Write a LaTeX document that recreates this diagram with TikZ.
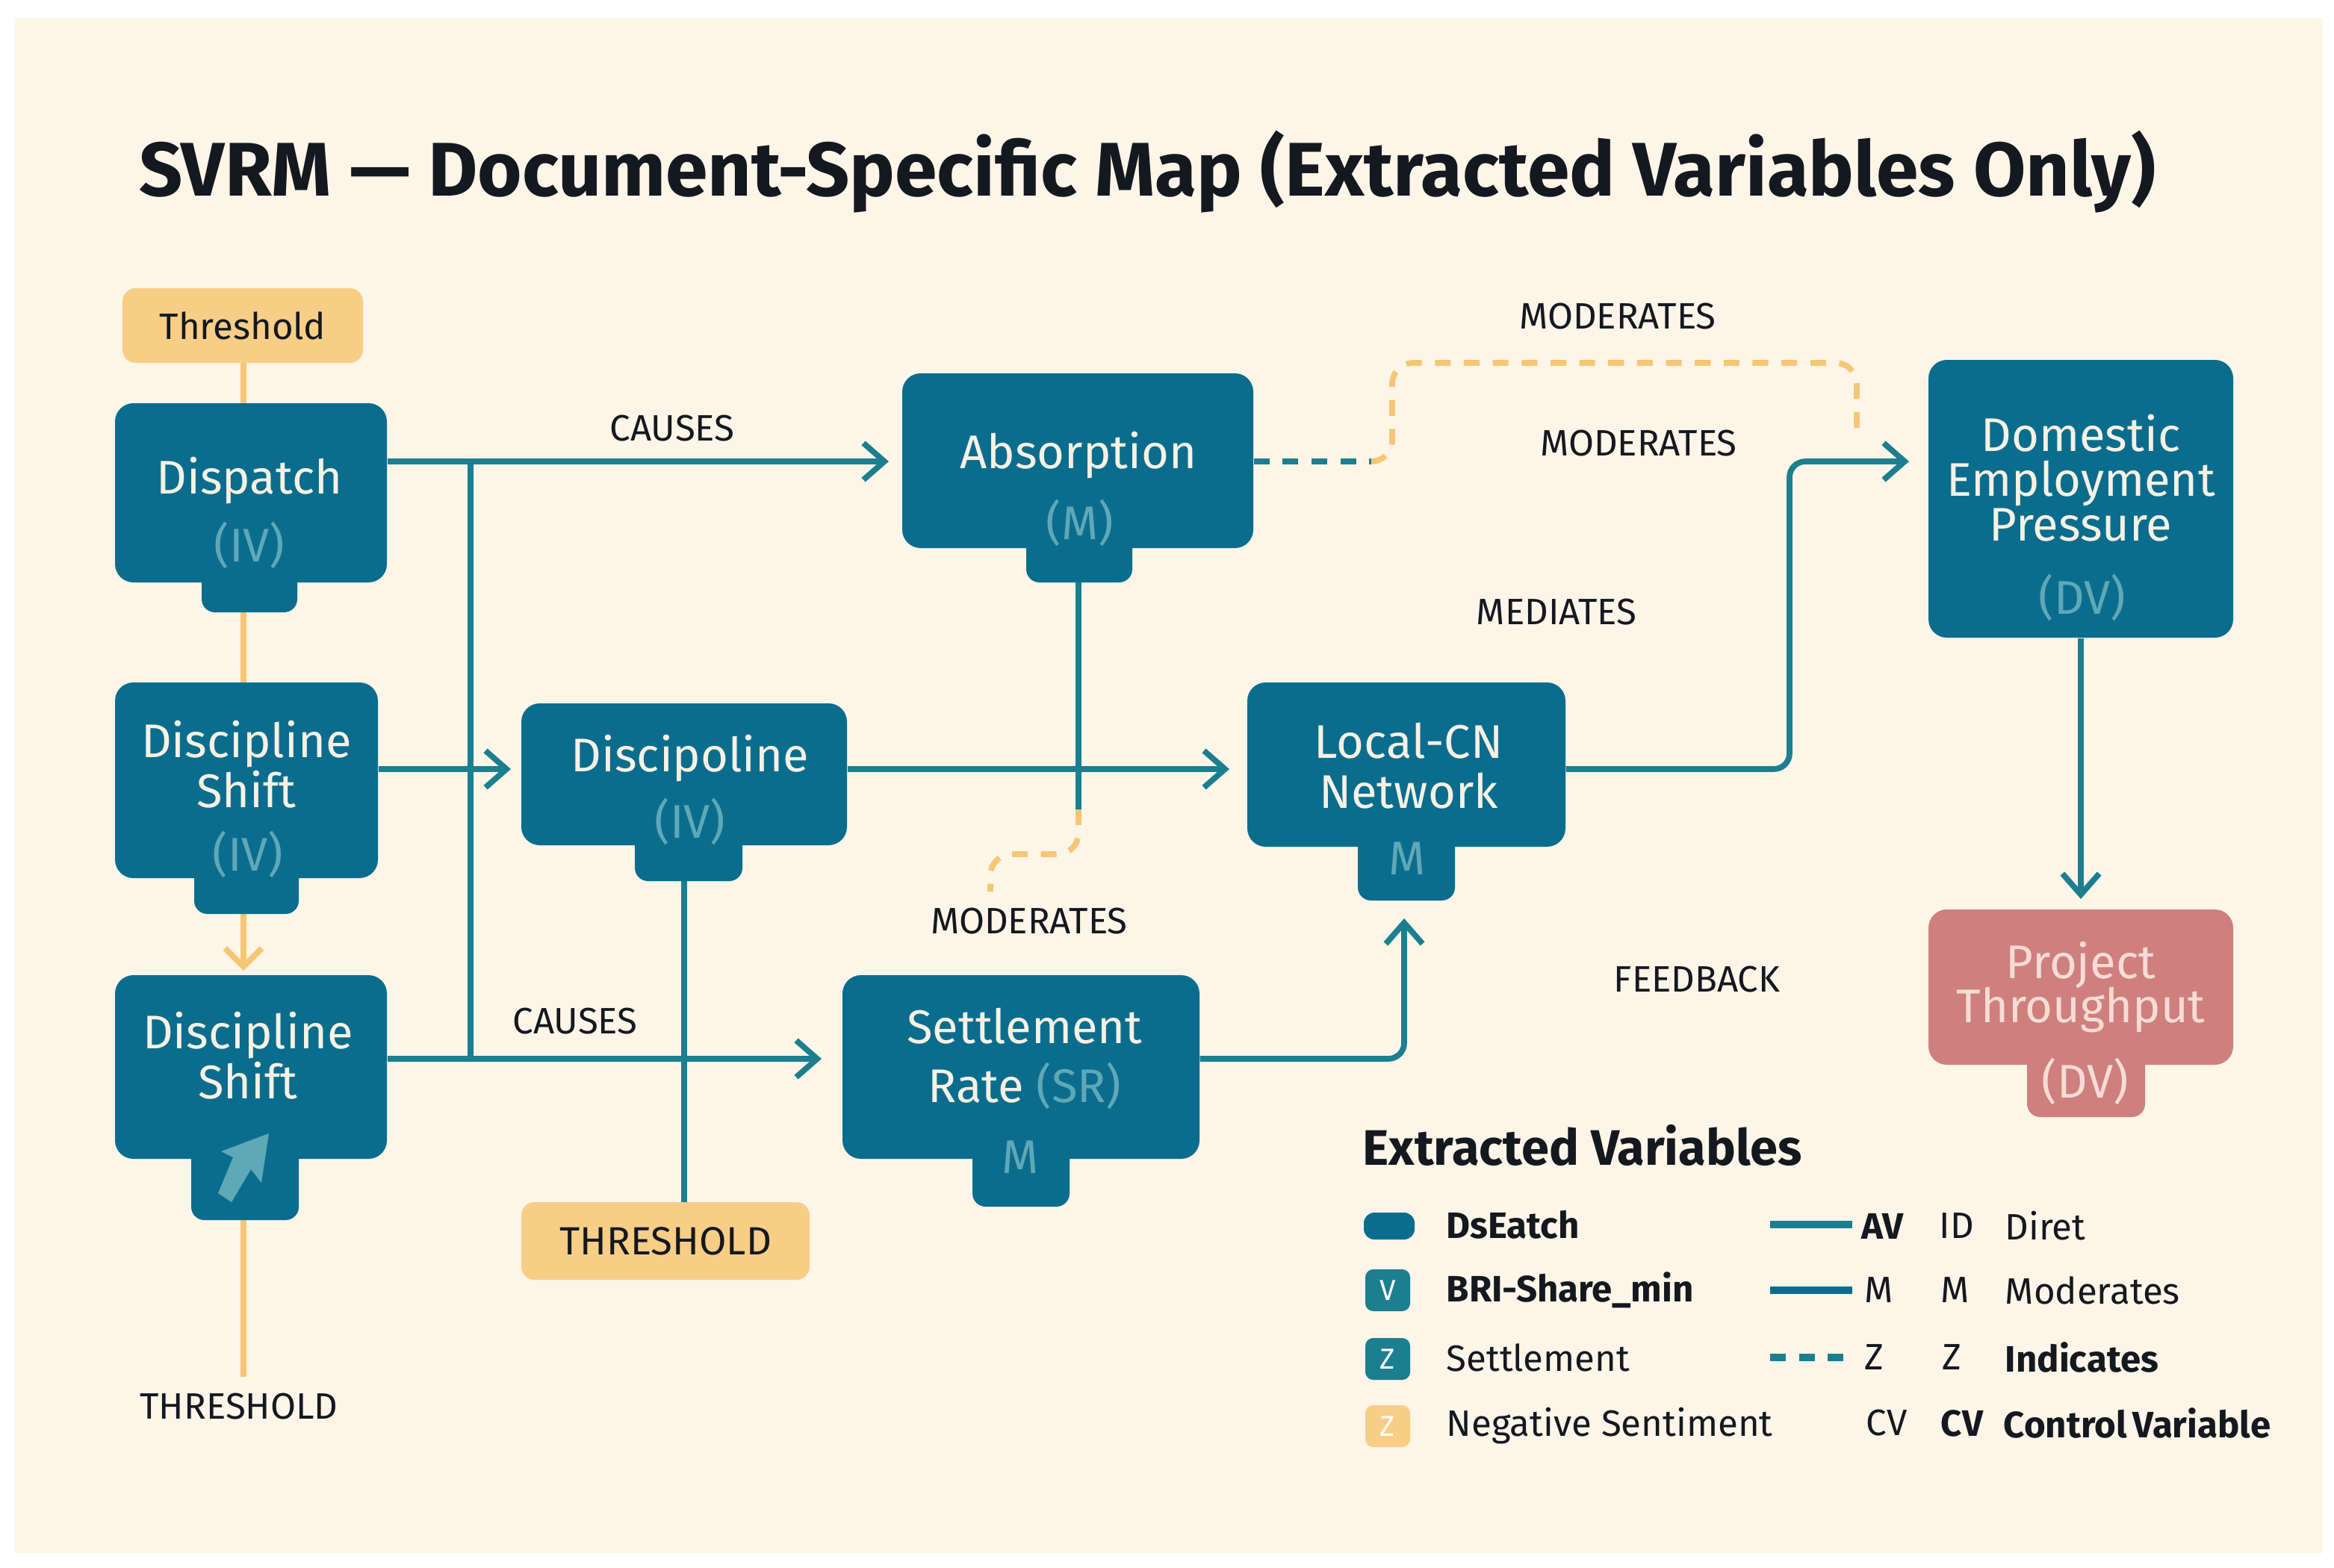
\documentclass[tikz,border=0pt]{standalone}
\usepackage{fontspec}
\setmainfont{Fira Sans}
\usetikzlibrary{arrows.meta}
\definecolor{bg}{HTML}{FDF5E8}
\definecolor{tealbox}{HTML}{0B6D8E}
\definecolor{tealline}{HTML}{1B7F90}
\definecolor{lite}{HTML}{5FA8B8}
\definecolor{cream}{HTML}{F7F1E3}
\definecolor{orng}{HTML}{F8CD86}
\definecolor{orline}{HTML}{F5C675}
\definecolor{pinkb}{HTML}{CF7F7D}
\definecolor{pinkt}{HTML}{F6DCD6}
\definecolor{ink}{HTML}{14181F}
\tikzset{
 box/.style={fill=tealbox,rounded corners=7pt,inner sep=0,draw=none},
 ntext/.style={text=cream,font=\fontsize{18}{20}\selectfont,inner sep=0,align=center},
 ltext/.style={text=lite,font=\fontsize{18}{20}\selectfont,inner sep=0},
 lab/.style={text=ink,font=\fontsize{14}{16}\selectfont\medseries,inner sep=0},
 conn/.style={draw=tealline,line width=2.2pt,rounded corners=6pt},
 arr/.style={conn,-{Straight Barb[length=8pt,width=14pt,line width=2.2pt]}},
 oline/.style={draw=orline,line width=2.2pt},
 odash/.style={draw=orline,line width=2.2pt,dash pattern=on 6pt off 5pt,rounded corners=8pt},
 tdash/.style={draw=tealline,line width=2.2pt,dash pattern=on 6pt off 5pt},
 leg/.style={text=ink,font=\fontsize{14}{16}\selectfont,inner sep=0,anchor=west},
}
\newcommand{\medseries}{\fontseries{m}}
\begin{document}
\begin{tikzpicture}[x=0.02cm,y=-0.02cm]
\useasboundingbox (0,0) rectangle (1562.5,1049.5);
\fill[white] (0,0) rectangle (1562.5,1049.5);
\fill[bg] (10,12) rectangle (1555,1040);
\node[anchor=west,inner sep=0,text=ink,font=\fontsize{29}{32}\selectfont\fontseries{sb}\selectfont] (title) at (93,115) {SVRM — Document-Specific Map (Extracted Variables Only)};

% orange vertical line (behind)
\draw[oline] (163,243) -- (163,270);
\draw[oline] (163,410) -- (163,457);
\draw[oline,-{Straight Barb[length=7pt,width=14pt,line width=2.2pt]}] (163,612) -- (163,650);
\draw[oline] (163,817) -- (163,922);

% connectors
\coordinate (j1) at (315,309);
\coordinate (j2) at (315,709);
\draw[conn] (j1) -- (j2);
\draw[conn] (722,390) -- (722,542);
\draw[odash] (722,542) -- (722,572) -- (663,572) -- (663,597);
\draw[conn] (458,590) -- (458,805);

% boxes
\fill[tealbox,rounded corners=5pt] (135,380) rectangle (199,410);
\node[box,minimum width=182*0.02cm,minimum height=120*0.02cm] (disp) at (168,330) {};
\fill[tealbox,rounded corners=5pt] (130,570) rectangle (200,612);
\node[box,minimum width=176*0.02cm,minimum height=131*0.02cm] (ds1) at (165,522.5) {};
\fill[tealbox,rounded corners=5pt] (128,760) rectangle (200,817);
\node[box,minimum width=182*0.02cm,minimum height=123*0.02cm] (ds2) at (168,714.5) {};
\fill[tealbox,rounded corners=5pt] (425,550) rectangle (497,590);
\node[box,minimum width=218*0.02cm,minimum height=95*0.02cm] (dpo) at (458,518.5) {};
\fill[tealbox,rounded corners=5pt] (687,350) rectangle (758,390);
\node[box,minimum width=235*0.02cm,minimum height=117*0.02cm] (abs) at (721.5,308.5) {};
\fill[tealbox,rounded corners=5pt] (651,760) rectangle (716,808);
\node[box,minimum width=239*0.02cm,minimum height=123*0.02cm] (sr) at (683.5,714.5) {};
\fill[tealbox,rounded corners=5pt] (909,550) rectangle (974,603);
\node[box,minimum width=213*0.02cm,minimum height=110*0.02cm] (lcn) at (941.5,512) {};
\node[box,minimum width=204*0.02cm,minimum height=186*0.02cm] (dom) at (1393,334) {};
\fill[pinkb,rounded corners=5pt] (1357,700) rectangle (1436,748);
\node[box,fill=pinkb,minimum width=204*0.02cm,minimum height=104*0.02cm] (pt) at (1393,661) {};
\node[fill=orng,rounded corners=5pt,minimum width=161*0.02cm,minimum height=50*0.02cm,inner sep=0,text=ink,font=\fontsize{14}{16}\selectfont] (thr1) at (162.5,218) {Threshold};
\node[fill=orng,rounded corners=5pt,minimum width=193*0.02cm,minimum height=52*0.02cm,inner sep=0,text=ink,font=\fontsize{15}{16}\selectfont] (thr2) at (445.5,831) {THRESHOLD};

% box texts
\node[ntext] (tdisp) at (167,322) {Dispatch};
\node[ltext] (tdisp2) at (167,365) {(IV)};
\node[ntext] (tds1) at (165,512) {Discipline\\[-1pt]Shift};
\node[ltext] (tds12) at (166,572) {(IV)};
\node[ntext] (tds2) at (166,707) {Discipline\\[-1pt]Shift};
\fill[lite] (146,799) -- (156,775) -- (148,771) -- (180,759) -- (175,792) -- (168,783) -- (155,805) -- cycle;
\node[ntext] (tdpo) at (462,508) {Discipoline};
\node[ltext] (tdpo2) at (462,550) {(IV)};
\node[ntext] (tabs) at (722,305) {Absorption};
\node[ltext] (tabs2) at (723,350) {(M)};
\node[ntext] (tsr) at (686,687) {Settlement};
\node[ntext] (tsr2) at (686,727) {Rate \textcolor{lite}{(SR)}};
\node[ltext] (tsr3) at (683,775) {M};
\node[ntext] (tlcn) at (943,513) {Local-CN\\[-1pt]Network};
\node[ltext] (tlcn2) at (942,575) {M};
\node[ntext] (tdom) at (1393,320) {Domestic\\[-3pt]Employment\\[-3pt]Pressure};
\node[ltext] (tdom2) at (1394,400) {(DV)};
\node[ntext,text=pinkt] (tpt) at (1393,661) {Project\\[-3pt]Throughput};
\node[ltext,text=pinkt] (tpt2) at (1396,724) {(DV)};

% arrows
\draw[arr] (disp.east |- 0,309) -- (595,309);
\draw[arr] (ds1.east |- 0,515) -- (342,515);
\draw[arr] (dpo.east |- 0,515) -- (823,515);
\draw[arr] (ds2.east |- 0,709) -- (550,709);
\draw[arr] (sr.east |- 0,709) -- (940,709) -- (940,615);
\draw[arr] (lcn.east |- 0,515) -- (1198,515) -- (1198,309) -- (1278,309);
\draw[arr] (dom.south) -- (1393,602);
\draw[tdash] (abs.east |- 0,309) -- (918,309);
\draw[odash] (918,309) -- (932,309) -- (932,243) -- (1243,243) -- (1243,295);

% labels
\node[lab] (c1) at (450,287) {CAUSES};
\node[lab] (c2) at (385,684) {CAUSES};
\node[lab] (m1) at (1083,212) {MODERATES};
\node[lab] (m2) at (1097,297) {MODERATES};
\node[lab] (me) at (1042,410) {MEDIATES};
\node[lab] (m3) at (689,617) {MODERATES};
\node[lab] (fb) at (1136,656) {FEEDBACK};
\node[lab] (th3) at (160,942) {THRESHOLD};

% legend
\node[anchor=west,inner sep=0,text=ink,font=\fontsize{19}{21}\selectfont\fontseries{sb}\selectfont] (lt) at (912,767) {Extracted Variables};
\node[fill=tealbox,rounded corners=4pt,minimum width=34*0.02cm,minimum height=18*0.02cm,inner sep=0] (i1) at (930,821) {};
\node[fill=tealline,rounded corners=3pt,minimum width=30*0.02cm,minimum height=28*0.02cm,inner sep=0,text=white,font=\fontsize{11}{12}\selectfont] (i2) at (929,864) {V};
\node[fill=tealline,rounded corners=3pt,minimum width=30*0.02cm,minimum height=28*0.02cm,inner sep=0,text=white,font=\fontsize{11}{12}\selectfont] (i3) at (929,910) {Z};
\node[fill=orng,rounded corners=3pt,minimum width=30*0.02cm,minimum height=28*0.02cm,inner sep=0,text=white,font=\fontsize{11}{12}\selectfont] (i4) at (929,955) {Z};
\node[leg,font=\fontsize{14}{16}\selectfont\bfseries] (l1) at (968,820) {DsEatch};
\node[leg,font=\fontsize{14}{16}\selectfont\fontseries{sb}\selectfont] (l2) at (968,864) {BRI-Share\_min};
\node[leg] (l3) at (968,909) {Settlement};
\node[leg] (l4) at (968,955) {Negative Sentiment};
\coordinate (a1) at (1185,820); \coordinate (b1) at (1240,820);
\draw[draw=tealline,line width=3pt] (a1) -- (b1);
\coordinate (a2) at (1185,864); \coordinate (b2) at (1240,864);
\draw[draw=tealbox,line width=3pt] (a2) -- (b2);
\coordinate (a3) at (1185,909); \coordinate (b3) at (1240,909);
\draw[draw=tealline,line width=3pt,dash pattern=on 6pt off 5pt] (a3) -- (b3);
\node[leg,font=\fontsize{14}{16}\selectfont\bfseries] (r1) at (1246,821) {AV};
\node[leg] (r2) at (1248,864) {M};
\node[leg] (r3) at (1248,909) {Z};
\node[leg] (r4) at (1249,953) {CV};
\node[leg] (s1) at (1298,821) {ID};
\node[leg] (s2) at (1299,864) {M};
\node[leg] (s3) at (1300,909) {Z};
\node[leg,font=\fontsize{14}{16}\selectfont\fontseries{sb}\selectfont] (s4) at (1299,953) {CV};
\node[leg] (t1) at (1342,821) {Diret};
\node[leg] (t2) at (1342,864) {Moderates};
\node[leg,font=\fontsize{14}{16}\selectfont\fontseries{sb}\selectfont] (t3) at (1342,909) {Indicates};
\node[leg,font=\fontsize{14}{16}\selectfont\fontseries{sb}\selectfont] (t4) at (1341,953) {Control\,Variable};
\end{tikzpicture}
\end{document}
